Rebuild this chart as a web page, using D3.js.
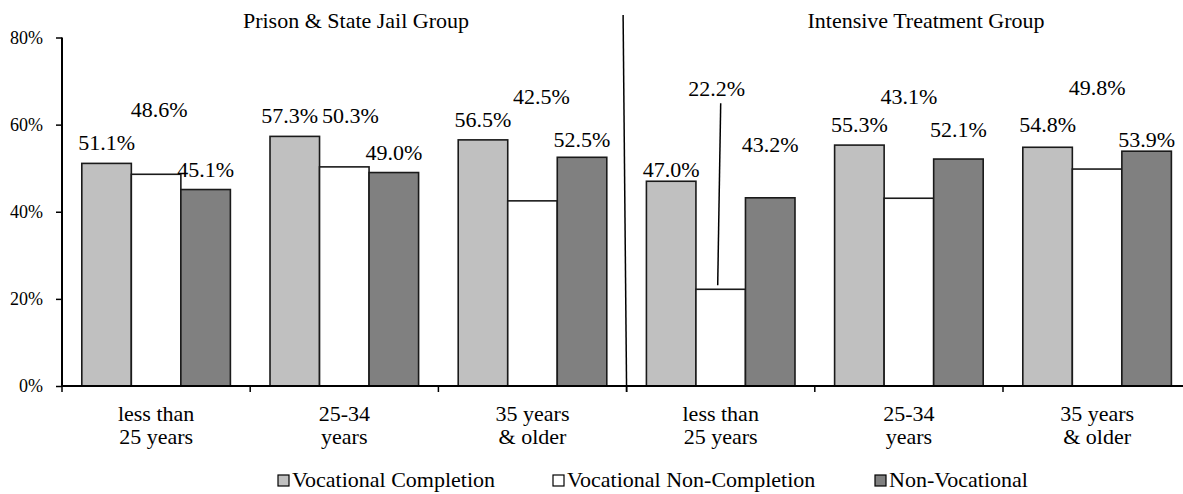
<!DOCTYPE html>
<html><head><meta charset="utf-8">
<script src="https://cdn.jsdelivr.net/npm/d3@7"></script>
<style>body{margin:0;background:#fff}svg{display:block}svg text{font-family:"Liberation Serif","Times New Roman",serif !important;fill:#000}</style>
</head><body><svg id="c" width="1183" height="494" font-family="Liberation Serif"></svg>
<script>
const panels = ["Prison & State Jail Group", "Intensive Treatment Group"];
const categories = ["less than|25 years", "25-34|years", "35 years|& older", "less than|25 years", "25-34|years", "35 years|& older"];
const series = ["Vocational Completion", "Vocational Non-Completion", "Non-Vocational"];
const vocCompletion = [51.1, 57.3, 56.5, 47.0, 55.3, 54.8];
const vocNonCompletion = [48.6, 50.3, 42.5, 22.2, 43.1, 49.8];
const nonVocational = [45.1, 49.0, 52.5, 43.2, 52.1, 53.9];
const yTicks = [0, 20, 40, 60, 80];
// label placement (px), layout only
const labelLift = [[13,57,13],[13,44,13],[13,97,10],[4,193,46],[13,94,22],[15,74,4]];
const labelShift = [[0,3,0],[-5,6,0],[0,9,0],[0,-4,0],[0,0,0],[0,0,0]];

const FONT = "Liberation Serif";
const svg = d3.select("#c");
const colors = ["#C0C0C0", "#FFFFFF", "#808080"];
const left = 62, groupW = 188.2, y0 = 386, yTop = 37.5;
const x0 = d3.scaleBand().domain(d3.range(6)).range([left, left + 6*groupW]).padding(0);
const x1 = d3.scaleBand().domain(d3.range(3)).range([0, groupW]).paddingInner(0).paddingOuter(0.4);
const y = d3.scaleLinear().domain([0, 80]).range([y0, yTop]);
const values = [vocCompletion, vocNonCompletion, nonVocational];

const g = svg.append("g");
for (let s = 0; s < 3; s++) {
  g.selectAll(null).data(values[s]).join("rect")
    .attr("x", (d,i) => x0(i) + x1(s))
    .attr("y", d => y(d))
    .attr("width", x1.bandwidth())
    .attr("height", d => y0 - y(d))
    .attr("fill", colors[s]).attr("stroke", "#1a1a1a").attr("stroke-width", 1.6);
}
for (let s = 0; s < 3; s++) {
  g.selectAll(null).data(values[s]).join("text")
    .attr("x", (d,i) => x0(i) + x1(s) + x1.bandwidth()/2 + labelShift[i][s])
    .attr("y", (d,i) => y(d) - labelLift[i][s])
    .attr("text-anchor", "middle").attr("font-size", 22).attr("font-family", FONT)
    .text(d => d.toFixed(1) + "%");
}
{
  const i = 3, s = 1, d = values[s][i];
  const cx = x0(i) + x1(s) + x1.bandwidth()/2;
  svg.append("line").attr("x1", cx).attr("y1", y(d) - labelLift[i][s] + 7)
    .attr("x2", cx - 3).attr("y2", y(d) - 4).attr("stroke", "#000").attr("stroke-width", 1.5);
}

const yAxis = d3.axisLeft(y).tickValues(yTicks).tickFormat(d => d + "%").tickSize(6).tickPadding(13);
const ya = svg.append("g").attr("transform", `translate(${left},0)`).call(yAxis);
ya.attr("font-family", FONT);
ya.select(".domain").attr("stroke", "#000").attr("stroke-width", 2).attr("d", `M0,${yTop}V${y0}`);
ya.selectAll(".tick line").attr("stroke", "#000").attr("stroke-width", 1.5);
ya.selectAll(".tick text").attr("font-size", 18).attr("font-family", FONT).attr("fill", "#000");

svg.append("line").attr("x1", left).attr("x2", 1183).attr("y1", y0).attr("y2", y0).attr("stroke", "#000").attr("stroke-width", 2);
svg.selectAll(null).data(d3.range(7)).join("line")
  .attr("x1", i => left + i*groupW).attr("x2", i => left + i*groupW)
  .attr("y1", y0).attr("y2", y0 + 6).attr("stroke", "#000").attr("stroke-width", 1.5);

categories.forEach((c, i) => {
  const cx = x0(i) + groupW/2;
  const t = svg.append("text").attr("x", cx).attr("y", 421).attr("text-anchor", "middle").attr("font-size", 22).attr("font-family", FONT);
  c.split("|").forEach((ln, k) => t.append("tspan").attr("x", cx).attr("dy", k ? 23 : 0).text(ln));
});

const divX = x0(3);
svg.append("line").attr("x1", divX - 3.5).attr("y1", 15).attr("x2", divX).attr("y2", 392).attr("stroke", "#000").attr("stroke-width", 1.5);

svg.append("text").attr("x", 356).attr("y", 28).attr("text-anchor", "middle").attr("font-size", 22).attr("font-family", FONT).text(panels[0]);
svg.append("text").attr("x", 926).attr("y", 28).attr("text-anchor", "middle").attr("font-size", 22).attr("font-family", FONT).text(panels[1]);

const legX = [278, 553, 875];
series.forEach((s, k) => {
  svg.append("rect").attr("x", legX[k]).attr("y", 475).attr("width", 11).attr("height", 11)
    .attr("fill", colors[k]).attr("stroke", "#000").attr("stroke-width", 1.2);
  svg.append("text").attr("x", legX[k] + 14).attr("y", 487).attr("font-size", 22).attr("font-family", FONT).text(s);
});
</script></body></html>
